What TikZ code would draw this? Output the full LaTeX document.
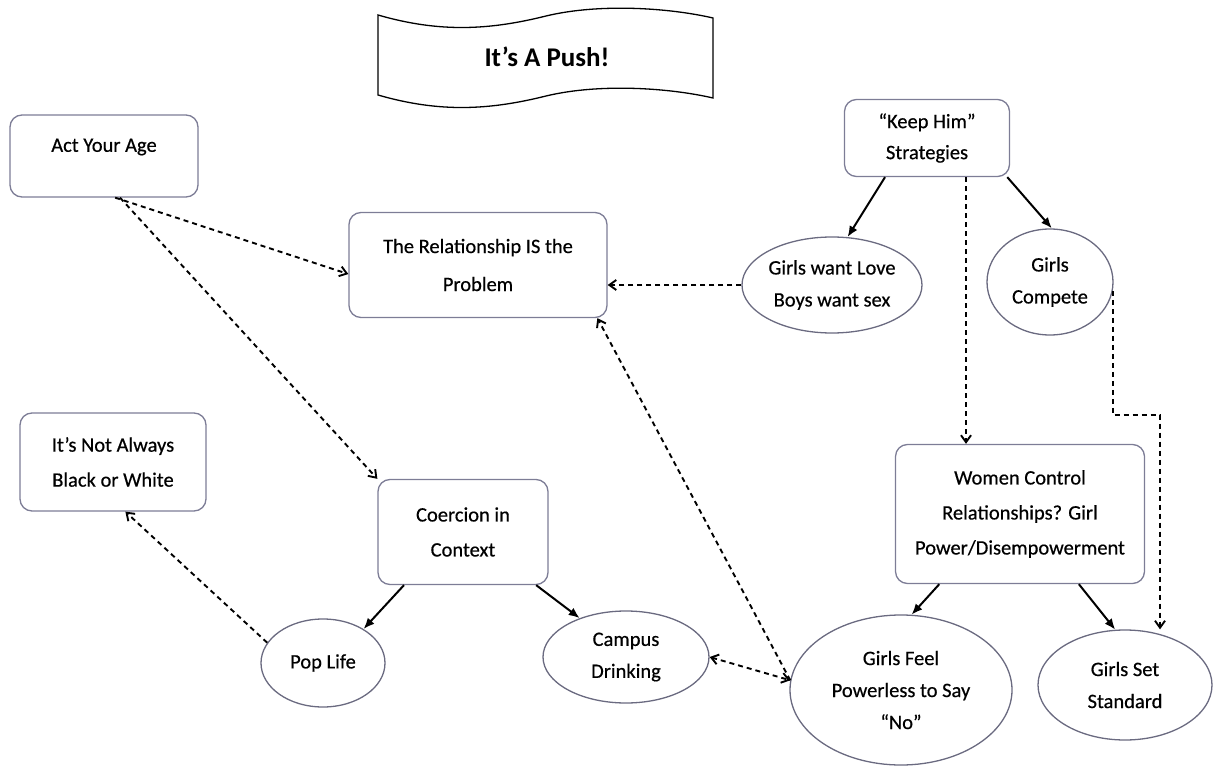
\documentclass[tikz,border=0pt]{standalone}
\usepackage{fontspec}
\setmainfont{Carlito}
\newfontfamily\heavyfont{Carlito}[FakeBold=0.5]
\usetikzlibrary{shapes.geometric, arrows.meta, calc}
\definecolor{boxline}{RGB}{125,125,150}
\tikzset{
    >={Straight Barb[length=7pt,width=10pt]},
    box/.style={draw=boxline, line width=1.3pt, rounded corners=12pt, align=center, inner sep=0pt, font=\heavyfont\fontsize{20.5}{35}\selectfont},
    oval/.style={ellipse, draw=boxline!85!black, line width=1.3pt, align=center, inner sep=0pt, font=\heavyfont\fontsize{20.5}{32}\selectfont},
    link/.style={line width=2pt, -{Latex[length=11pt,width=9pt]}},
    hint/.style={line width=1.9pt, dash pattern=on 5pt off 4pt}
}

\begin{document}
\begin{tikzpicture}[x=1pt, y=-1pt]
    \useasboundingbox (0,0) rectangle (1215,767);

    % Title banner
    \draw[line width=1.3pt, fill=white] (378,15) .. controls (440,33) and (490,30) .. (546,16)
        .. controls (600,3) and (670,8) .. (713,18) -- (713,98)
        .. controls (670,88) and (600,83) .. (546,96)
        .. controls (490,110) and (440,113) .. (378,95) -- cycle;
    \node[font=\fontsize{27}{32}\selectfont\bfseries] (title) at (547,57) {It’s A Push!};

    % Boxes
    \node[box, minimum width=188pt, minimum height=82pt] (act) at (104,156) {Act Your Age\\[-24pt] \strut};
    \node[box, minimum width=258pt, minimum height=105pt] (rel) at (478,265) {The Relationship IS the\\[3pt]Problem};
    \node[box, minimum width=165pt, minimum height=77pt] (keep) at (927,138) {“Keep Him”\\[-4pt]Strategies};
    \node[box, minimum width=186pt, minimum height=98pt] (notalways) at (113,462) {It’s Not Always\\Black or White};
    \node[box, minimum width=170pt, minimum height=105pt] (coercion) at (463,532) {Coercion in\\Context};
    \node[box, minimum width=249pt, minimum height=139pt] (women) at (1020,514) {Women Control\\Relationships? Girl\\Power/Disempowerment};

    % Ovals
    \node[oval, minimum width=180pt, minimum height=96pt] (girlswant) at (832,285) {Girls want Love\\Boys want sex};
    \node[oval, minimum width=126pt, minimum height=106pt] (compete) at (1050,282) {Girls\\Compete};
    \node[oval, minimum width=124pt, minimum height=88pt] (pop) at (323,663) {Pop Life};
    \node[oval, minimum width=166pt, minimum height=92pt] (campus) at (626,657) {Campus\\Drinking};
    \node[oval, minimum width=222pt, minimum height=150pt] (girlsfeel) at (901,690) {Girls Feel\\Powerless to Say\\“No”};
    \node[oval, minimum width=174pt, minimum height=110pt] (girlsset) at (1125,685) {Girls Set\\Standard};

    % Solid links
    \draw[link] (keep.-137) -- (girlswant.72);
    \draw[link] (keep.-26) -- (compete.88);
    \draw[link] (coercion.-138) -- (pop.40);
    \draw[link] (coercion.-36) -- (campus.140);
    \draw[link] (women.-139) -- (girlsfeel.82);
    \draw[link] (women.-50) -- (girlsset.100);

    % Dashed links
    \draw[hint, ->] (act.-75) -- (rel.184);
    \draw[hint, ->] (act.-69) -- (coercion.north west);
    \draw[hint, ->] (girlswant.west) -- (girlswant.west -| rel.east);
    \coordinate (drop) at ($(keep.south)+(39,0)$);
    \draw[hint, ->] (drop) -- (drop |- women.north);
    \coordinate (bend) at (1160,415);
    \draw[hint, ->] (compete.-8) |- (bend) -- (bend |- girlsset.north);
    \draw[hint, ->] (pop.160) -- (notalways.-76);
    \draw[hint, ->] (girlsfeel.175) -- (rel.-24.5);
    \draw[hint, <->] (campus.east) -- (girlsfeel.175);
\end{tikzpicture}
\end{document}
